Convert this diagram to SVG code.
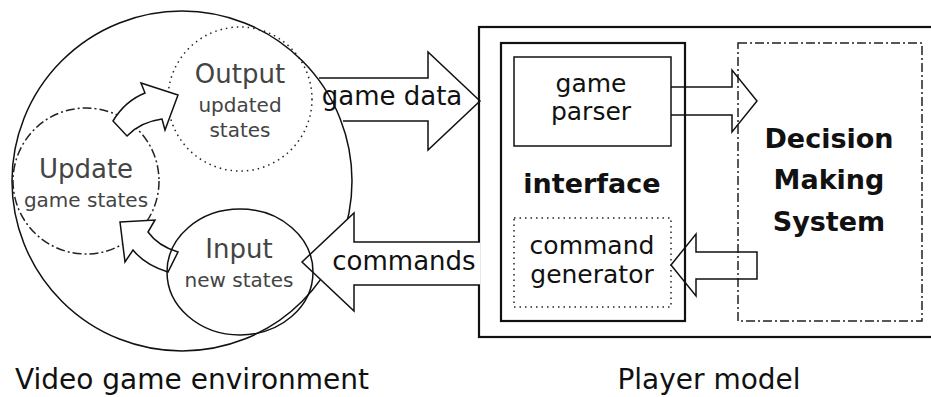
<svg xmlns="http://www.w3.org/2000/svg" width="931" height="397" viewBox="0 0 931 397">
  <style>
    text { font-family: "DejaVu Sans", Verdana, sans-serif; text-anchor: middle; }
    .lbl { font-size: 26px; fill: #444; }
    .sub { font-size: 20px; fill: #444; }
    .blk { font-size: 26px; fill: #111; }
    .box { font-size: 25px; fill: #111; }
    .bold { font-size: 27px; font-weight: bold; fill: #111; }
    .cap { font-size: 28px; fill: #111; }
    .solid { fill: none; stroke: #111; stroke-width: 1.5; }
    .thick { fill: none; stroke: #111; stroke-width: 2.2; }
    .dotted { fill: none; stroke: #222; stroke-width: 1.5; stroke-dasharray: 1.5 4; }
    .dashdot { fill: none; stroke: #222; stroke-width: 1.5; stroke-dasharray: 9 3 2 3; }
    .arrow { fill: #fff; stroke: #111; stroke-width: 1.5; stroke-linejoin: miter; }
    .arrow-open { fill: none; stroke: #111; stroke-width: 1.5; }
  </style>

  <rect width="931" height="397" fill="#fff"/>

  <!-- game environment -->
  <g id="environment">
    <circle cx="182" cy="181" r="170" class="solid"/>
  </g>

  <g id="output-node">
    <circle cx="240" cy="99" r="72" class="dotted"/>
    <text x="240" y="83" class="lbl">Output</text>
    <text x="240" y="112" class="sub">updated</text>
    <text x="240" y="137" class="sub">states</text>
  </g>

  <g id="update-node">
    <circle cx="86" cy="181" r="73" class="dashdot"/>
    <text x="86" y="178" class="lbl">Update</text>
    <text x="86" y="207" class="sub">game states</text>
  </g>

  <!-- player model -->
  <g id="player-model">
    <rect x="479" y="27" width="460" height="310" class="thick"/>
  </g>

  <g id="interface">
    <rect x="501" y="43" width="184" height="278" class="thick"/>
    <text x="592" y="193" class="bold">interface</text>
  </g>

  <g id="game-parser">
    <rect x="514" y="57" width="157" height="89" class="solid"/>
    <text x="591" y="92" class="box">game</text>
    <text x="591" y="120" class="box">parser</text>
  </g>

  <g id="command-generator">
    <rect x="514" y="218" width="157" height="89" class="dotted"/>
    <text x="592" y="254" class="box">command</text>
    <text x="592" y="283" class="box">generator</text>
  </g>

  <g id="decision-making">
    <rect x="738" y="43" width="184" height="278" class="dashdot"/>
    <text x="829" y="148" class="bold">Decision</text>
    <text x="829" y="189" class="bold">Making</text>
    <text x="829" y="231" class="bold">System</text>
  </g>

  <g id="connectors">
    <!-- environment to player model -->
    <path d="M 319,78 H 428 V 52 L 480,101 L 428,150 V 121 H 343" class="arrow-open"/>
    <text x="392" y="105" class="blk">game data</text>

    <!-- player model back to environment -->
    <path d="M 480,242 H 354 V 213 L 302,262 L 354,311 V 285 H 480" class="arrow"/>
    <text x="404" y="270" class="blk">commands</text>

    <!-- parser to decision making -->
    <path d="M 671,87 H 732 V 70 L 757,101 L 732,132 V 115 H 671" class="arrow-open"/>

    <!-- decision making to command generator -->
    <path d="M 757,252 H 696 V 234 L 671,265 L 696,296 V 279 H 757 Z" class="arrow-open"/>

    <!-- update to output -->
    <path d="M 113,121 Q 125,101 145,93 L 141,83 L 178,95 L 165,130 L 162,119 Q 140,122 127,136 Z" class="arrow"/>

    <!-- input to update -->
    <path d="M 120,222 L 155,220 L 148,232 Q 158,246 178,252 L 168,272 Q 145,265 133,250 L 125,262 Z" class="arrow"/>
  </g>

  <g id="input-node">
    <ellipse cx="240" cy="272" rx="73" ry="63" class="solid"/>
    <text x="239" y="258" class="lbl">Input</text>
    <text x="239" y="287" class="sub">new states</text>
  </g>

  <g id="captions">
    <text x="192" y="389" class="cap">Video game environment</text>
    <text x="709" y="389" class="cap">Player model</text>
  </g>
</svg>
